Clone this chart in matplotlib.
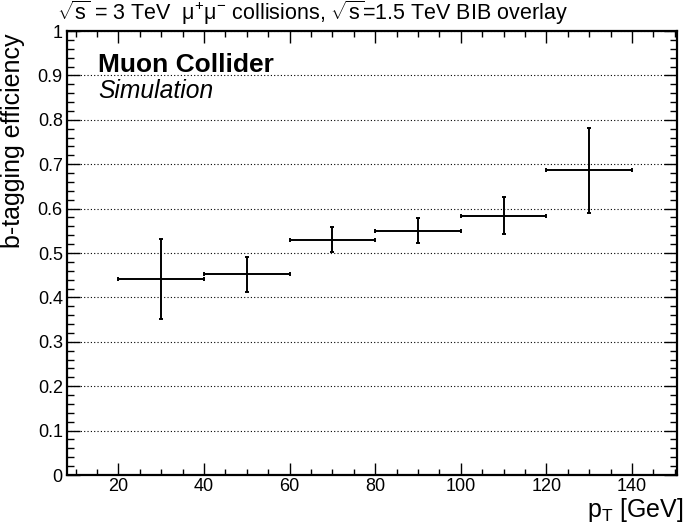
import numpy as np
import matplotlib
matplotlib.use('Agg')
import matplotlib.pyplot as plt
from matplotlib.ticker import MultipleLocator

# font setup, ROOT-like Helvetica look
plt.rcParams['font.family'] = ['Liberation Sans', 'DejaVu Sans']
plt.rcParams['mathtext.fontset'] = 'custom'
plt.rcParams['mathtext.rm'] = 'Liberation Sans'
plt.rcParams['mathtext.it'] = 'Liberation Sans:italic'
plt.rcParams['mathtext.bf'] = 'Liberation Sans:bold'

# data
pt_center = [30, 50, 70, 90, 110, 130]
pt_halfwidth = [10, 10, 10, 10, 10, 10]
eff = [0.441, 0.452, 0.530, 0.549, 0.584, 0.686]
eff_err_low = [0.090, 0.040, 0.028, 0.027, 0.042, 0.095]
eff_err_high = [0.090, 0.040, 0.029, 0.029, 0.043, 0.096]

W, H = 685, 527
fig = plt.figure(figsize=(W / 100, H / 100), dpi=100)
ax = fig.add_axes([67 / W, 1 - 475 / H, 610 / W, 444 / H])

ax.errorbar(pt_center, eff, xerr=pt_halfwidth, yerr=[eff_err_low, eff_err_high],
            fmt='none', ecolor='black', elinewidth=1.4, capsize=1.5, capthick=1.4)

ax.set_xlim(8, 150.5)
ax.set_ylim(0, 1)
ax.xaxis.set_major_locator(MultipleLocator(20))
ax.xaxis.set_minor_locator(MultipleLocator(5))
ax.yaxis.set_minor_locator(MultipleLocator(0.02))
ax.set_yticks(np.arange(0, 1.01, 0.1))
ax.set_yticklabels(['0'] + ['%.1f' % v for v in np.arange(0.1, 0.95, 0.1)] + ['1'])

ax.tick_params(which='both', direction='in', top=True, right=True, labelsize=13, width=1)
ax.tick_params(axis='x', which='major', length=8.6, pad=2)
ax.tick_params(axis='x', which='minor', length=4.3)
ax.tick_params(axis='y', which='major', length=9.4, pad=3)
ax.tick_params(axis='y', which='minor', length=5)
for s in ax.spines.values():
    s.set_linewidth(1.6)

ax.grid(axis='y', which='major', linestyle=(0, (1, 2)), color='black', linewidth=0.8)
ax.set_axisbelow(True)

# axis titles, placed like ROOT does (flush to the top / right end)
fig.text(13 / W, 1 - 33 / H, 'b-tagging efficiency', fontsize=18, rotation=90,
         ha='center', va='top')
fig.text(684 / W, 1 - 517 / H, r'$\mathrm{p}_{\mathrm{T}}$ [GeV]', fontsize=18,
         ha='right', va='baseline')

ax.text(0.0508, 0.908, 'Muon Collider', transform=ax.transAxes, fontsize=19,
        fontweight='bold', va='baseline')
ax.text(0.0508, 0.848, 'Simulation', transform=ax.transAxes, fontsize=17.7,
        style='italic', va='baseline')

fig.text(57 / W, 1 - 20 / H,
         r'$\sqrt{\mathrm{s}}$ = 3 TeV  μ$^{+}$μ$^{-}$ collisions, $\sqrt{\mathrm{s}}$=1.5 TeV BIB overlay',
         fontsize=15.5, va='baseline', ha='left')

fig.savefig('out.png', dpi=100)
